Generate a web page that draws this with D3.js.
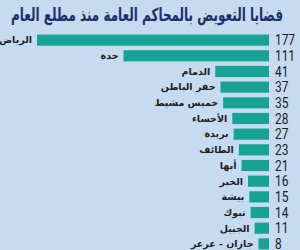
<!DOCTYPE html>
<html>
<head>
<meta charset="utf-8">
<script src="https://cdn.jsdelivr.net/npm/d3@7"></script>
<style>
  body { margin: 0; background: #c6dbef; }
  svg { display: block; }
</style>
</head>
<body>
<div id="chart"></div>
<script>
// Data
const cities = ["الرياض", "جدة", "الدمام", "حفر الباطن", "خميس مشيط", "الأحساء", "بريدة",
    "الطائف", "أبها", "الخبر", "بيشة", "تبوك", "الجبيل", "جازان - عرعر"];
const cases = [177, 111, 41, 37, 35, 28, 27, 23, 21, 16, 15, 14, 11, 8];
const title = "قضايا التعويض بالمحاكم العامة منذ مطلع العام";

const W = 300, H = 250;
const svg = d3.select("#chart").append("svg")
    .attr("width", W)
    .attr("height", H);

svg.append("rect").attr("width", W).attr("height", H).attr("fill", "#c6dbef");

// Title
svg.append("text")
    .attr("x", 147)
    .attr("y", 21)
    .attr("text-anchor", "middle")
    .style("font-family", "DejaVu Sans, sans-serif")
    .style("font-weight", "bold")
    .style("font-size", "18px")
    .attr("textLength", 272)
    .attr("lengthAdjust", "spacingAndGlyphs")
    .attr("fill", "#1c2f6d")
    .text(title);

// Scales
const barRight = 269;
const x = d3.scaleLinear().domain([0, 177]).range([0, 232]);
const y = d3.scaleBand()
    .domain(cities)
    .range([33, 251])
    .paddingInner(0.29)
    .paddingOuter(0.1);

const rows = svg.selectAll(".row")
    .data(cities)
    .join("g")
    .attr("class", "row");

rows.append("rect")
    .attr("x", (d, i) => barRight - x(cases[i]))
    .attr("y", d => y(d))
    .attr("width", (d, i) => x(cases[i]))
    .attr("height", y.bandwidth())
    .attr("fill", "#17a393");

// Values
rows.append("text")
    .attr("x", barRight + 6)
    .attr("y", d => y(d) + y.bandwidth() / 2)
    .attr("dy", "0.36em")
    .style("font-family", "Roboto, sans-serif")
    .style("font-size", "14px")
    .attr("fill", "#1a1a1a")
    .attr("transform", function(d) {
        const cx = barRight + 6;
        return `translate(${cx},0) scale(0.85,1) translate(${-cx},0)`;
    })
    .text((d, i) => cases[i]);

// City labels
rows.append("text")
    .attr("x", (d, i) => barRight - x(cases[i]) - 5)
    .attr("y", d => y(d) + y.bandwidth() / 2)
    .attr("dy", "0.35em")
    .attr("text-anchor", "end")
    .style("font-family", "DejaVu Sans, sans-serif")
    .style("font-weight", "bold")
    .style("font-size", "9.5px")
    .attr("fill", "#222")
    .text(d => d);
</script>
</body>
</html>
